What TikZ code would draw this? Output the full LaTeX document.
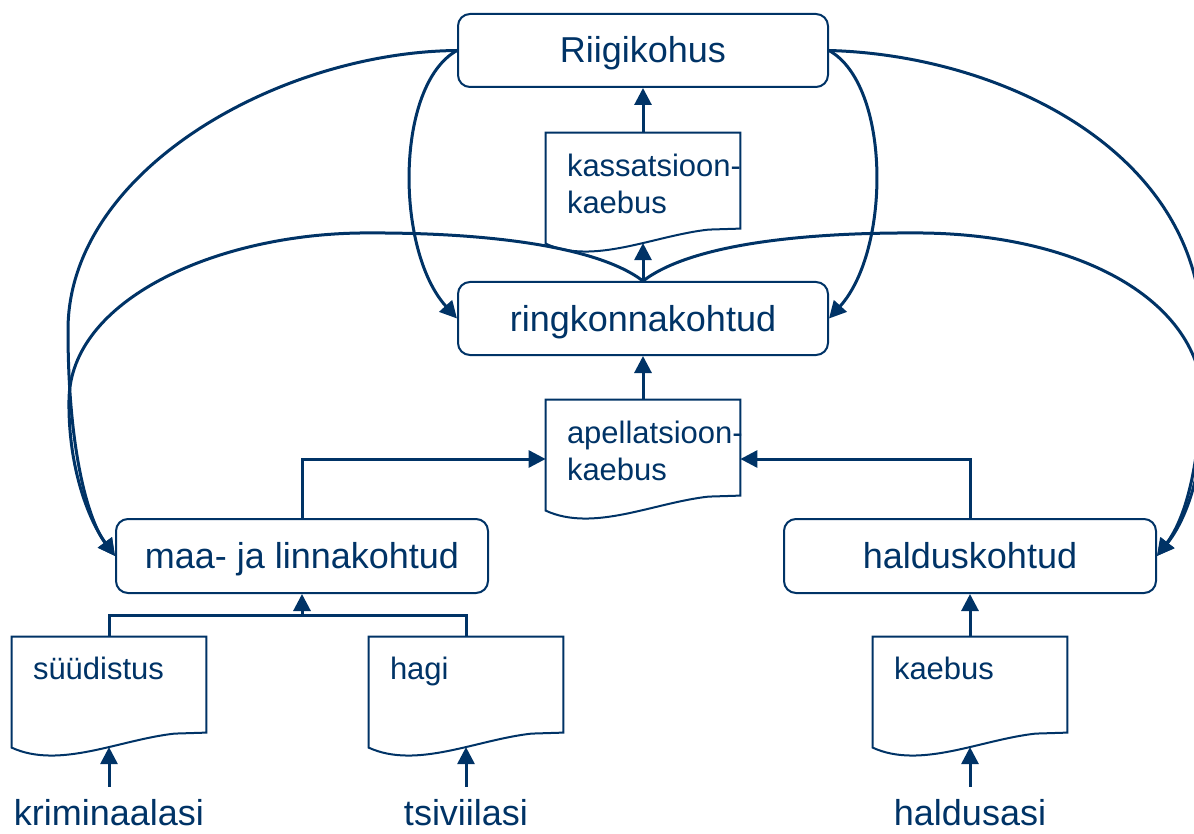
\documentclass[tikz,border=0pt]{standalone}
\usepackage{fontspec}
\setmainfont{Liberation Sans}
\usetikzlibrary{arrows.meta,calc}
\definecolor{navy}{RGB}{0,51,102}
\newcommand{\docshape}[1]{%
  \draw[docline] (#1.north west) -- (#1.north east) -- ($(#1.north east)+(0,96)$) -- ($(#1.north west)+(163,97)$) .. controls ($(#1.north west)+(108,103)$) and ($(#1.north west)+(48,133)$) .. ($(#1.north west)+(0,111)$) -- cycle;}
\begin{document}
\begin{tikzpicture}[x=0.5pt,y=-0.5pt,
  court/.style={draw=navy, line width=1pt, rounded corners=6pt, minimum width=185pt, minimum height=36.5pt, font=\fontsize{18}{21}\selectfont, text=navy, text height=12.5pt, text depth=0pt, inner sep=0pt},
  docarea/.style={minimum width=97pt, minimum height=59pt, inner sep=0pt},
  docline/.style={draw=navy, line width=1pt},
  doctext/.style={font=\fontsize{15.5}{18.5}\selectfont, text=navy, inner sep=0pt, align=left},
  conn/.style={draw=navy, line width=1.5pt},
  arr/.style={conn, -{Triangle[length=8.5pt,width=8.5pt]}},
  case/.style={font=\fontsize{18}{21}\selectfont, text=navy, inner sep=0pt, anchor=base}
]
\useasboundingbox (0,0) rectangle (1194,834);
\clip (0,0) rectangle (1194,834);

% courts
\node[court] (riig) at (643,50.5) {Riigikohus};
\node[court] (ring) at (643,318.5) {ringkonnakohtud};
\node[court, minimum width=186pt, minimum height=37pt] (maa) at (302,556) {maa- ja linnakohtud};
\node[court, minimum width=186pt, minimum height=37pt] (hald) at (970,556) {halduskohtud};

% documents
\node[docarea] (kass) at (643,192) {};
\node[docarea] (apel) at (643,459) {};
\node[docarea] (suud) at (109,696) {};
\node[docarea] (hagi) at (466,696) {};
\node[docarea] (kaeb) at (970,696) {};
\docshape{kass}
\docshape{apel}
\docshape{suud}
\docshape{hagi}
\docshape{kaeb}
\node[doctext, anchor=north west] (kassT) at ($(kass.north west)+(21,21)$) {kassatsioon-\\kaebus};
\node[doctext, anchor=north west] (apelT) at ($(apel.north west)+(21,21)$) {apellatsioon-\\kaebus};
\node[doctext, anchor=base west] (suudT) at ($(suud.north west)+(21,43)$) {süüdistus};
\node[doctext, anchor=base west] (hagiT) at ($(hagi.north west)+(21,43)$) {hagi};
\node[doctext, anchor=base west] (kaebT) at ($(kaeb.north west)+(21,43)$) {kaebus};

% case types
\node[case] (krim) at (109,825) {kriminaalasi};
\node[case] (tsiv) at (466,825) {tsiviilasi};
\node[case] (hals) at (970,825) {haldusasi};

% straight connectors
\draw[arr] (kass.north) -- (riig.south);
\draw[arr] (ring.north) -- ($(kass.north)+(0,110.5)$);
\draw[arr] (apel.north) -- (ring.south);
\draw[arr] (maa.north) |- (apel.west);
\draw[arr] (hald.north) |- (apel.east);
\coordinate (jn) at (302,615);
\draw[conn] (suud.north) |- (jn) -| (hagi.north);
\draw[arr] (jn) -- (maa.south);
\draw[arr] (kaeb.north) -- (hald.south);
\draw[arr] ([yshift=6pt]krim.north) -- ($(suud.north)+(0,110.5)$);
\draw[arr] ([yshift=6pt]tsiv.north) -- ($(hagi.north)+(0,110.5)$);
\draw[arr] ([yshift=6pt]hals.north) -- ($(kaeb.north)+(0,110.5)$);

% curved connectors
\draw[arr] (riig.west) .. controls (395,85) and (395,250) .. (ring.west);
\draw[arr] (riig.east) .. controls (891,85) and (891,250) .. (ring.east);
\draw[arr] (riig.west) .. controls (280,52) and (68,170) .. (68,330) .. controls (68,450) and (88,520) .. (maa.west);
\draw[arr] (ring.north) .. controls (596,245) and (480,232) .. (360,233) .. controls (215,235) and (70,300) .. (69,400) .. controls (68,470) and (90,522) .. (maa.west);
\draw[arr] (riig.east) .. controls (1000,55) and (1198,150) .. (1202,330) .. controls (1205,450) and (1188,515) .. (hald.east);
\draw[arr] (ring.north) .. controls (690,245) and (800,232) .. (923,233) .. controls (1080,235) and (1200,300) .. (1203,400) .. controls (1205,470) and (1186,520) .. (hald.east);
\end{tikzpicture}
\end{document}
